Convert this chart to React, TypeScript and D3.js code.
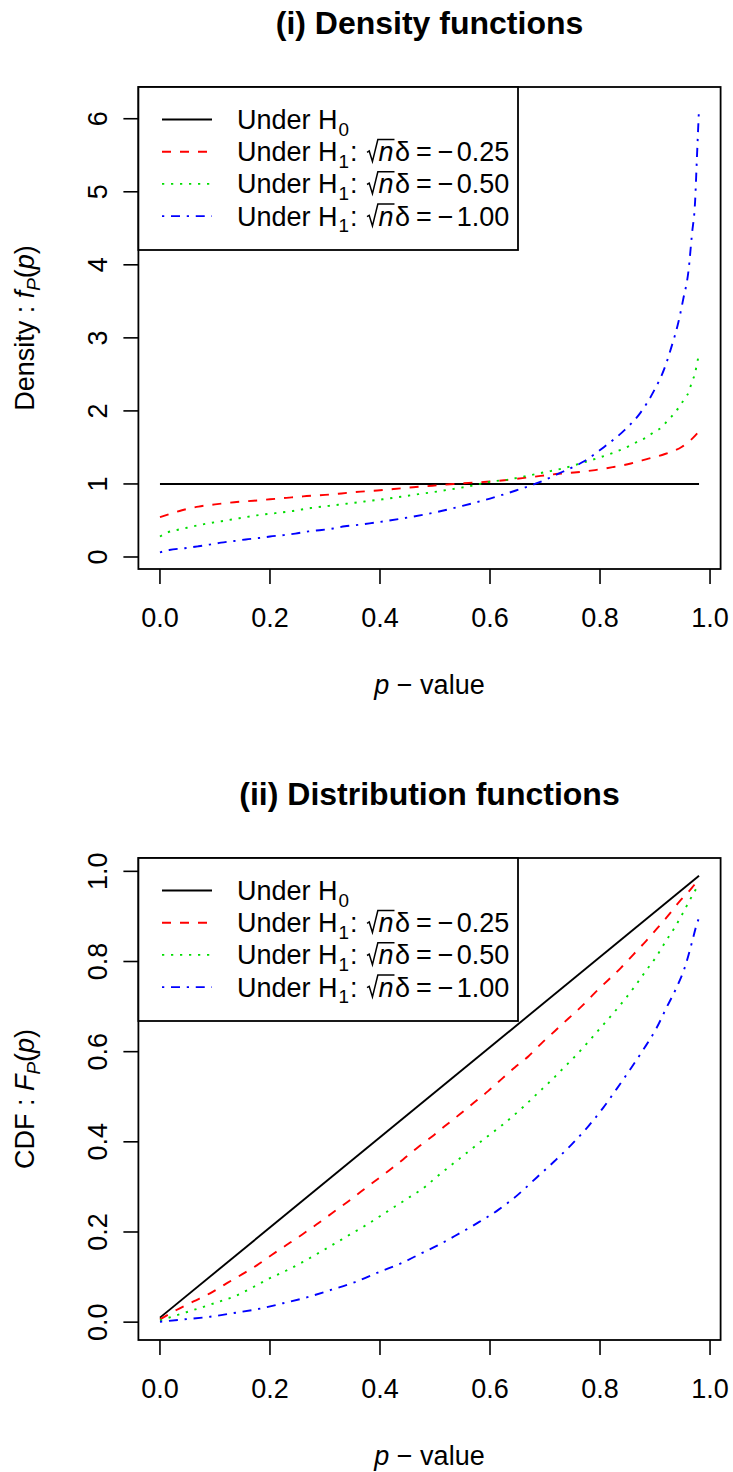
import React from "react";
import * as d3 from "d3";

// ---------------- data ----------------
const xTicks = [0, 0.2, 0.4, 0.6, 0.8, 1.0];
const xTickLabels = ["0.0", "0.2", "0.4", "0.6", "0.8", "1.0"];
const densityTicks = [0, 1, 2, 3, 4, 5, 6];
const densityTickLabels = ["0", "1", "2", "3", "4", "5", "6"];
const cdfTicks = [0, 0.2, 0.4, 0.6, 0.8, 1.0];
const cdfTickLabels = ["0.0", "0.2", "0.4", "0.6", "0.8", "1.0"];
const legendValues = ["0.25", "0.50", "1.00"];

// Under H0
const pH0 = [0, 0.98];
const densH0 = [1, 1];
const cdfH0 = [0.01, 0.99];

// density, sqrt(n)delta = -0.25
const pDensRed = [0, 0.04, 0.07, 0.1, 0.135, 0.17, 0.2, 0.23, 0.26, 0.3, 0.33, 0.365, 0.395, 0.425, 0.46, 0.495, 0.527, 0.561, 0.594, 0.626, 0.659, 0.692, 0.725, 0.758, 0.791, 0.823, 0.856, 0.885, 0.918, 0.949, 0.969, 0.98];
const densRed = [0.545, 0.64, 0.69, 0.72, 0.75, 0.77, 0.79, 0.81, 0.83, 0.85, 0.87, 0.895, 0.91, 0.93, 0.955, 0.975, 0.995, 1.015, 1.03, 1.05, 1.08, 1.11, 1.14, 1.16, 1.19, 1.23, 1.28, 1.34, 1.41, 1.51, 1.63, 1.72];

// density, sqrt(n)delta = -0.50
const pDensGreen = [0, 0.015, 0.031, 0.049, 0.08, 0.112, 0.144, 0.176, 0.21, 0.242, 0.274, 0.307, 0.34, 0.372, 0.405, 0.438, 0.47, 0.503, 0.536, 0.57, 0.6, 0.633, 0.667, 0.699, 0.731, 0.764, 0.794, 0.825, 0.856, 0.871, 0.885, 0.898, 0.913, 0.924, 0.936, 0.945, 0.955, 0.962, 0.967, 0.973, 0.976, 0.98];
const densGreen = [0.28, 0.34, 0.37, 0.40, 0.45, 0.49, 0.53, 0.57, 0.60, 0.63, 0.67, 0.70, 0.73, 0.76, 0.79, 0.825, 0.86, 0.895, 0.935, 0.98, 1.03, 1.06, 1.11, 1.16, 1.21, 1.28, 1.35, 1.43, 1.53, 1.59, 1.64, 1.71, 1.78, 1.88, 1.97, 2.07, 2.18, 2.27, 2.40, 2.52, 2.64, 2.77];

// density, sqrt(n)delta = -1.00
const pDensBlue = [0, 0.017, 0.045, 0.069, 0.09, 0.111, 0.135, 0.156, 0.18, 0.2, 0.225, 0.246, 0.27, 0.294, 0.315, 0.336, 0.36, 0.381, 0.4, 0.45, 0.5, 0.55, 0.6, 0.647, 0.689, 0.73, 0.771, 0.808, 0.845, 0.873, 0.897, 0.918, 0.93, 0.942, 0.951, 0.961, 0.967, 0.973, 0.976, 0.98];
const densBlue = [0.064, 0.096, 0.12, 0.146, 0.17, 0.196, 0.219, 0.24, 0.26, 0.28, 0.30, 0.32, 0.35, 0.37, 0.39, 0.42, 0.44, 0.46, 0.48, 0.54, 0.61, 0.70, 0.80, 0.91, 1.02, 1.16, 1.31, 1.51, 1.74, 1.97, 2.26, 2.6, 2.88, 3.2, 3.52, 3.93, 4.41, 4.89, 5.44, 6.15];

// CDF, sqrt(n)delta = -0.25
const pCdfRed = [0, 0.03, 0.061, 0.091, 0.121, 0.149, 0.176, 0.203, 0.23, 0.258, 0.285, 0.312, 0.339, 0.365, 0.391, 0.417, 0.442, 0.468, 0.496, 0.518, 0.545, 0.571, 0.597, 0.621, 0.645, 0.67, 0.694, 0.718, 0.742, 0.767, 0.791, 0.815, 0.838, 0.861, 0.884, 0.905, 0.926, 0.945, 0.962, 0.974, 0.98];
const cdfRed = [0.006, 0.027, 0.046, 0.064, 0.086, 0.106, 0.126, 0.149, 0.171, 0.194, 0.217, 0.241, 0.265, 0.289, 0.313, 0.337, 0.361, 0.387, 0.413, 0.435, 0.461, 0.487, 0.513, 0.539, 0.565, 0.59, 0.619, 0.646, 0.673, 0.701, 0.731, 0.759, 0.786, 0.816, 0.846, 0.875, 0.905, 0.934, 0.956, 0.973, 0.979];

// CDF, sqrt(n)delta = -0.50
const pCdfGreen = [0, 0.048, 0.079, 0.109, 0.139, 0.17, 0.199, 0.229, 0.259, 0.288, 0.316, 0.345, 0.373, 0.4, 0.428, 0.456, 0.484, 0.497, 0.524, 0.552, 0.588, 0.624, 0.661, 0.685, 0.712, 0.733, 0.758, 0.779, 0.801, 0.824, 0.845, 0.864, 0.882, 0.903, 0.918, 0.936, 0.95, 0.964, 0.976, 0.98];
const cdfGreen = [0.004, 0.022, 0.034, 0.046, 0.059, 0.078, 0.097, 0.114, 0.133, 0.153, 0.173, 0.194, 0.214, 0.235, 0.257, 0.279, 0.302, 0.316, 0.343, 0.37, 0.405, 0.439, 0.478, 0.506, 0.537, 0.563, 0.594, 0.622, 0.653, 0.685, 0.716, 0.746, 0.777, 0.812, 0.842, 0.876, 0.906, 0.938, 0.964, 0.972];

// CDF, sqrt(n)delta = -1.00
const pCdfBlue = [0, 0.042, 0.091, 0.133, 0.182, 0.224, 0.267, 0.312, 0.355, 0.4, 0.439, 0.479, 0.503, 0.536, 0.573, 0.615, 0.652, 0.685, 0.718, 0.749, 0.779, 0.806, 0.83, 0.855, 0.879, 0.903, 0.921, 0.939, 0.955, 0.967, 0.975, 0.98];
const cdfBlue = [0.001, 0.006, 0.012, 0.02, 0.03, 0.042, 0.055, 0.072, 0.089, 0.112, 0.131, 0.155, 0.169, 0.191, 0.217, 0.249, 0.284, 0.321, 0.358, 0.395, 0.435, 0.476, 0.517, 0.561, 0.605, 0.653, 0.698, 0.742, 0.79, 0.842, 0.879, 0.897];

// ---------------- styles ----------------
const FONT = '"Liberation Sans", Arial, Helvetica, sans-serif';
const FS = 27;
const STYLES = [
  { color: "#000000", dash: undefined as string | undefined },
  { color: "#FF0000", dash: "9 9" },
  { color: "#00DD00", dash: "2.25 6.75" },
  { color: "#0000FF", dash: "2.25 6.75 9 6.75" },
];
const LW = 1.9;

let _ctx: CanvasRenderingContext2D | null = null;
function tw(s: string, size: number, italic = false): number {
  if (!_ctx) _ctx = document.createElement("canvas").getContext("2d");
  if (!_ctx) return s.length * size * 0.55;
  _ctx.font = `${italic ? "italic " : ""}${size}px "Liberation Sans"`;
  return _ctx.measureText(s).width;
}

const x = d3.scaleLinear().domain([-0.0392, 1.0192]).range([138.4, 720.6]);

function LegendText({ x0, y, sub, value }: { x0: number; y: number; sub: string; value?: string }) {
  const fs = FS;
  const out: React.ReactNode[] = [];
  let cx = x0;
  out.push(<text key="u" x={cx} y={y}>Under H</text>);
  cx += tw("Under H", fs) + 1;
  const sfs = fs * 0.7;
  out.push(<text key="s" x={cx} y={y + fs * 0.25} fontSize={sfs}>{sub}</text>);
  cx += tw(sub, sfs);
  if (value) {
    out.push(<text key="c" x={cx + 1} y={y}>:</text>);
    cx += tw(": ", fs) + 3;
    const radW = fs * 0.4;
    const nW = tw("n", fs, true);
    const top = y - fs * 0.8;
    const d = `M${cx},${y - fs * 0.33} L${cx + fs * 0.08},${y - fs * 0.38} L${cx + fs * 0.2},${y + fs * 0.01} L${cx + radW},${top} L${cx + radW + nW + fs * 0.06},${top}`;
    out.push(<path key="r" d={d} fill="none" stroke="#000" strokeWidth={1.5} />);
    out.push(<text key="n" x={cx + radW + fs * 0.02} y={y} fontStyle="italic">n</text>);
    cx += radW + nW + fs * 0.08;
    out.push(<text key="d" x={cx} y={y}>δ</text>);
    cx += tw("δ", fs) + fs * 0.22;
    out.push(<text key="e" x={cx} y={y}>=</text>);
    cx += tw("=", fs) + fs * 0.22;
    out.push(<text key="m" x={cx} y={y}>{"\u2212"}</text>);
    cx += tw("\u2212", fs) + fs * 0.12;
    out.push(<text key="v" x={cx} y={y}>{value}</text>);
  }
  return <g>{out}</g>;
}

type Series = { p: number[]; v: number[] };

function Panel({
  offsetY, title, ylim, yTicks, yTickLabels, yLabel, series,
}: {
  offsetY: number; title: string; ylim: [number, number]; yTicks: number[]; yTickLabels: string[];
  yLabel: React.ReactNode; series: Series[];
}) {
  const top = 87 + offsetY;
  const bottom = 569 + offsetY;
  const y = d3.scaleLinear().domain(ylim).range([bottom, top]);
  const left = x.range()[0];
  const right = x.range()[1];
  const line = d3
    .line<[number, number]>()
    .x((d) => x(d[0]))
    .y((d) => y(d[1]))
    .curve(d3.curveMonotoneX);
  const tick = 15;
  const legTop = top;
  const legLeft = left;
  const legRight = 518;
  const legBottom = top + 163;
  const rowY = (i: number) => legTop + 32.5 + i * 32.2;
  return (
    <g>
      <text x={(left + right) / 2} y={34 + offsetY} textAnchor="middle" fontWeight="bold" fontSize={32}>
        {title}
      </text>
      {series.map((s, i) => (
        <path
          key={i}
          d={line(s.p.map((p, j) => [p, s.v[j]] as [number, number])) || ""}
          fill="none"
          stroke={STYLES[i].color}
          strokeWidth={LW}
          strokeDasharray={STYLES[i].dash}
        />
      ))}
      <rect x={left} y={top} width={right - left} height={bottom - top} fill="none" stroke="#000" strokeWidth={1.8} />
      {xTicks.map((t, i) => (
        <g key={"xt" + i}>
          <line x1={x(t)} x2={x(t)} y1={bottom} y2={bottom + tick} stroke="#000" strokeWidth={1.6} />
          <text x={x(t)} y={627 + offsetY} textAnchor="middle">{xTickLabels[i]}</text>
        </g>
      ))}
      {yTicks.map((t, i) => (
        <g key={"yt" + i}>
          <line x1={left - tick} x2={left} y1={y(t)} y2={y(t)} stroke="#000" strokeWidth={1.6} />
          <text transform={`translate(107,${y(t)}) rotate(-90)`} textAnchor="middle">{yTickLabels[i]}</text>
        </g>
      ))}
      <text x={(left + right) / 2} y={694 + offsetY} textAnchor="middle">
        <tspan fontStyle="italic">p</tspan>
        <tspan>{" \u2212 value"}</tspan>
      </text>
      <text transform={`translate(34,${(top + bottom) / 2}) rotate(-90)`} textAnchor="middle">
        {yLabel}
      </text>
      <rect x={legLeft} y={legTop} width={legRight - legLeft} height={legBottom - legTop} fill="#fff" stroke="#000" strokeWidth={1.8} />
      {STYLES.map((st, i) => (
        <line key={"ll" + i} x1={162} x2={212} y1={rowY(i)} y2={rowY(i)} stroke={st.color} strokeWidth={LW} strokeDasharray={st.dash} />
      ))}
      <LegendText x0={237} y={rowY(0) + 9.5} sub="0" />
      {legendValues.map((v, i) => (
        <LegendText key={"lt" + i} x0={237} y={rowY(i + 1) + 9.5} sub="1" value={v} />
      ))}
    </g>
  );
}

export default function App() {
  const densSeries: Series[] = [
    { p: pH0, v: densH0 },
    { p: pDensRed, v: densRed },
    { p: pDensGreen, v: densGreen },
    { p: pDensBlue, v: densBlue },
  ];
  const cdfSeries: Series[] = [
    { p: pH0, v: cdfH0 },
    { p: pCdfRed, v: cdfRed },
    { p: pCdfGreen, v: cdfGreen },
    { p: pCdfBlue, v: cdfBlue },
  ];
  const sub = (s: string) => (
    <>
      <tspan dy={6} fontSize={FS * 0.7} fontStyle="italic">{s}</tspan>
      <tspan dy={-6}>(</tspan>
    </>
  );
  return (
    <svg
      width={733}
      height={1472}
      style={{ position: "absolute", left: 0, top: 0, background: "#fff" }}
      fontFamily={FONT}
      fontSize={FS}
    >
      <rect x={0} y={0} width={733} height={1472} fill="#fff" />
      <Panel
        offsetY={0}
        title="(i) Density functions"
        ylim={[-0.1644, 6.4344]}
        yTicks={densityTicks}
        yTickLabels={densityTickLabels}
        series={densSeries}
        yLabel={
          <>
            <tspan>{"Density : "}</tspan>
            <tspan fontStyle="italic">f</tspan>
            {sub("P")}
            <tspan fontStyle="italic">p</tspan>
            <tspan>)</tspan>
          </>
        }
      />
      <Panel
        offsetY={771}
        title="(ii) Distribution functions"
        ylim={[-0.0396, 1.0296]}
        yTicks={cdfTicks}
        yTickLabels={cdfTickLabels}
        series={cdfSeries}
        yLabel={
          <>
            <tspan>{"CDF : "}</tspan>
            <tspan fontStyle="italic">F</tspan>
            {sub("P")}
            <tspan fontStyle="italic">p</tspan>
            <tspan>)</tspan>
          </>
        }
      />
    </svg>
  );
}
